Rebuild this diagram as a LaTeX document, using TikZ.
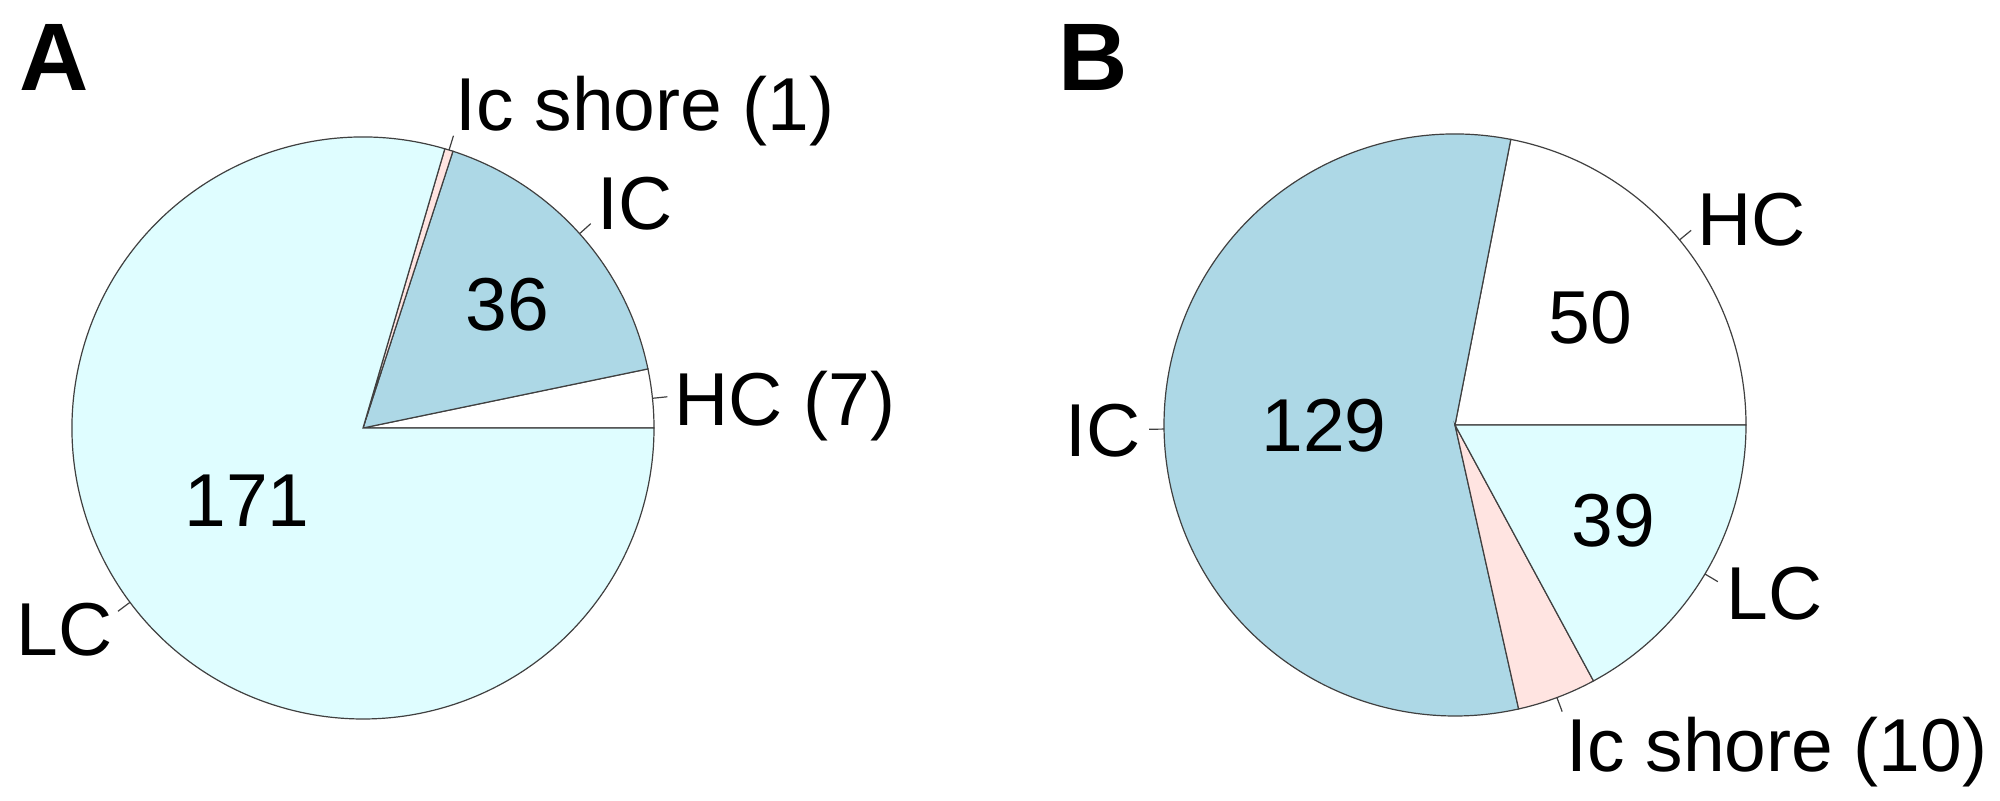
\documentclass[tikz,border=0pt]{standalone}
\usepackage{fontspec}
\setmainfont{Liberation Sans}
\usetikzlibrary{calc}
\begin{document}
\begin{tikzpicture}[x=0.5pt,y=0.5pt,
  lbl/.style={anchor=base west,inner sep=0pt,font=\fontsize{37.5}{40}\selectfont},
  panel/.style={anchor=base west,inner sep=0pt,font=\fontsize{48}{50}\selectfont\bfseries},
  edge/.style={draw=black!75,line width=0.6pt},
  tick/.style={draw=black!75,line width=0.6pt}]
\definecolor{lc}{HTML}{DFFDFF}
\definecolor{ic}{HTML}{ADD8E6}
\definecolor{sh}{HTML}{FFE4E1}
\useasboundingbox (0,0) rectangle (2000,800);
\fill[white] (0,0) rectangle (2000,800);
\def\R{291}
\newcommand{\sector}[4]{\path[edge,fill=#4] (#1) -- ++(#2:\R) arc[start angle=#2,end angle=#3,radius=\R] -- cycle;}
\newcommand{\tickat}[2]{\draw[tick] ($(#1)+(#2:\R)$) -- ($(#1)+(#2:\R+15)$);}
% Pie A
\coordinate (ca) at (363,372);
\sector{ca}{0}{11.72}{white}
\sector{ca}{11.72}{72.0}{ic}
\sector{ca}{72.0}{73.67}{sh}
\sector{ca}{73.67}{360}{lc}
\tickat{ca}{5.86}
\tickat{ca}{41.9}
\tickat{ca}{72.8}
\tickat{ca}{216.8}
\node[panel] (pa) at (19,710) {A};
\node[lbl] (ashore) at (455,669) {Ic shore (1)};
\node[lbl] (aic) at (597,571) {IC};
\node[lbl] (ahc) at (674,375) {HC (7)};
\node[lbl] (a171) at (184,274) {171};
\node[lbl] (a36) at (465,470) {36};
\node[lbl] (alc) at (16,145) {LC};
% Pie B
\coordinate (cb) at (1455,375);
\sector{cb}{0}{78.95}{white}
\sector{cb}{78.95}{282.63}{ic}
\sector{cb}{282.63}{298.42}{sh}
\sector{cb}{298.42}{360}{lc}
\tickat{cb}{39.5}
\tickat{cb}{180.8}
\tickat{cb}{290.5}
\tickat{cb}{329.2}
\node[panel] (pb) at (1058,710) {B};
\node[lbl] (bhc) at (1697,555) {HC};
\node[lbl] (b50) at (1548,457) {50};
\node[lbl] (bic) at (1065,344) {IC};
\node[lbl] (b129) at (1261,349) {129};
\node[lbl] (b39) at (1571,254) {39};
\node[lbl] (blc) at (1726,181) {LC};
\node[lbl] (bshore) at (1566,29) {Ic shore (10)};
\end{tikzpicture}
\end{document}
